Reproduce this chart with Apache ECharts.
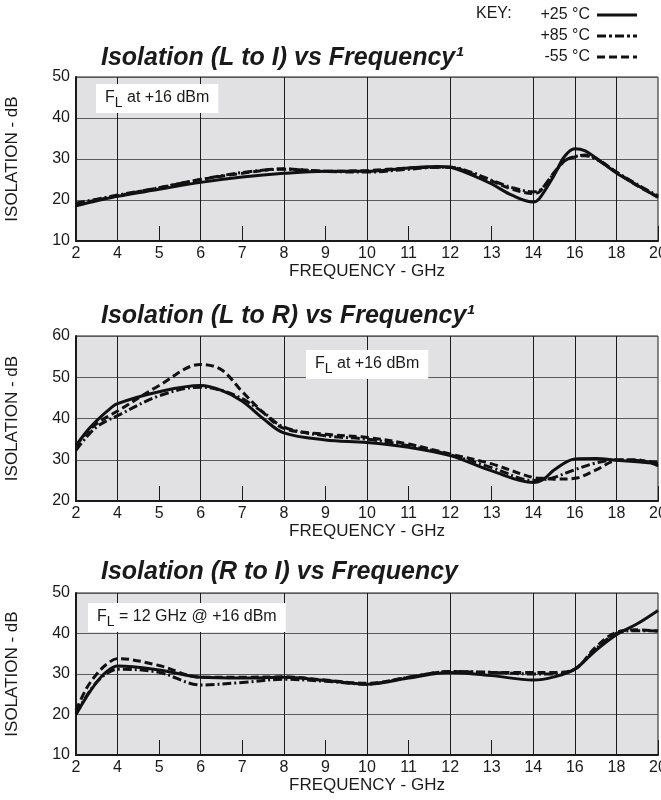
<!DOCTYPE html>
<html>
<head>
<meta charset="utf-8">
<title>Isolation vs Frequency</title>
<script src="https://cdn.jsdelivr.net/npm/echarts@6/dist/echarts.min.js"></script>
<style>
html, body { margin: 0; padding: 0; background: #fff; }
#chart { width: 661px; height: 800px; }
</style>
</head>
<body>
<div id="chart"></div>
<script>
// x axis is not linear: 2-4, then 1 GHz steps to 14, then 2 GHz steps
const tickLabels = ['2', '4', '5', '6', '7', '8', '9', '10', '11', '12', '13', '14', '16', '18', '20'];
const gridFreqs = [4, 6, 8, 10, 12, 14, 16, 18];
const names = ['+25 °C', '+85 °C', '-55 °C'];

// Isolation (L to I)
const freqLI = [2, 3, 4, 5, 6, 7, 8, 9, 10, 11, 11.7, 12, 12.5, 13, 13.5, 14, 14.3, 15, 15.5, 16, 16.5, 17, 18, 19, 20];
const li25 = [18.6, 19.8, 20.9, 22.6, 24.3, 25.6, 26.5, 27, 27, 27.8, 28.2, 28, 26.2, 23.9, 21.1, 19.5, 20.4, 26, 30.6, 32.5, 32, 30.3, 26.6, 23.6, 20.6];
const li85 = [19.2, 20.2, 21.2, 23, 25, 26.7, 27.5, 27, 26.8, 27.5, 28, 28, 26.8, 24.8, 23, 22, 22.3, 26.5, 29.5, 30.6, 30.8, 30, 26.8, 23.8, 21];
const lim55 = [19, 20, 21, 23, 25, 26.5, 27.6, 27, 27.2, 27.8, 28, 28, 26.5, 24.6, 22.6, 21.6, 22, 26.7, 29.5, 30.5, 31, 30.2, 26.8, 23.5, 20.8];

// Isolation (L to R)
const freqLR = [2, 2.5, 3, 3.5, 4, 5, 6, 6.5, 7, 7.5, 8, 9, 10, 11, 12, 13, 14, 14.5, 15, 16, 17, 18, 19, 20];
const lr25 = [33.4, 36.8, 39.5, 41.8, 43.6, 46.5, 48, 46.8, 44.2, 40, 36.5, 34.8, 34.2, 33, 31, 27.3, 24.5, 25.3, 27.5, 30.2, 30.3, 29.9, 29.5, 29.1];
const lr85 = [32.3, 35.5, 38, 39.5, 40.7, 45.5, 47.6, 46.8, 44.8, 41.5, 37.9, 35.8, 35, 33.4, 31.2, 28.1, 25, 25.2, 25.7, 27.6, 29.2, 30, 29.8, 29.4];
const lrm55 = [33.4, 36.5, 38.8, 40.4, 41.8, 48, 53.1, 51.8, 46.5, 41.5, 37.6, 36.2, 35.4, 33.8, 31.4, 29, 25.7, 25.5, 25.3, 25.5, 27.5, 29.8, 30, 28.5];

// Isolation (R to I)
const freqRI = [2, 2.5, 3, 3.5, 4, 5, 6, 7, 8, 9, 10, 11, 12, 13, 14, 15, 16, 17, 18, 19, 20];
const ri25 = [20, 24.3, 28, 30.7, 32, 31, 29.2, 29, 29.2, 28.4, 27.5, 29, 30.4, 29.6, 28.5, 29.3, 31.2, 35.8, 39.7, 42.4, 45.7];
const ri85 = [20.2, 24.5, 28, 30.2, 31.2, 30.4, 27.3, 27.9, 28.7, 28.2, 27.5, 29.2, 30.6, 30.4, 30, 30, 31.2, 36.2, 40, 40.7, 40.6];
const rim55 = [21, 26.4, 30, 32.5, 33.8, 32.1, 29.2, 29.2, 29.3, 28.5, 27.7, 29.2, 30.6, 30.4, 30.4, 30.4, 31.2, 36.6, 40.3, 40.9, 40.6];

const font = "'Liberation Sans', Arial, sans-serif";
const ink = '#1a1a1a';

function toPos(f) {
  if (f <= 4) return (f - 2) / 2;
  if (f <= 14) return f - 3;
  return 11 + (f - 14) / 2;
}

const lineTypes = ['solid', [9, 3, 2, 3], [8, 4]];
const keyDash = [null, [9, 3, 3, 3], [8, 4]];

const panels = [
  { top: 77, height: 164, min: 10, max: 50, freq: freqLI, sets: [li25, li85, lim55] },
  { top: 336, height: 165, min: 20, max: 60, freq: freqLR, sets: [lr25, lr85, lrm55] },
  { top: 593, height: 162, min: 10, max: 50, freq: freqRI, sets: [ri25, ri85, rim55] }
];

const grids = [], xAxes = [], yAxes = [], series = [];
panels.forEach(function (p, k) {
  grids.push({
    left: 76, width: 582, top: p.top, height: p.height,
    containLabel: false, outerBoundsMode: 'none',
    show: true, backgroundColor: '#e1e1e3', borderColor: ink, borderWidth: 1
  });
  xAxes.push({
    gridIndex: k, type: 'value', min: 0, max: 14, interval: 1,
    axisLine: { show: true, lineStyle: { color: ink, width: 2 } },
    axisTick: { show: true, inside: true, length: 15, lineStyle: { color: ink } },
    axisLabel: { formatter: function (v) { return tickLabels[v]; }, color: ink, fontSize: 16, fontFamily: font, margin: 5 },
    splitLine: { show: false },
    name: 'FREQUENCY - GHz', nameLocation: 'middle', nameGap: 22,
    nameTextStyle: { color: ink, fontSize: 17, fontFamily: font }
  });
  yAxes.push({
    gridIndex: k, type: 'value', min: p.min, max: p.max, interval: 10,
    axisLine: { show: true, lineStyle: { color: ink, width: 2 } },
    axisTick: { show: false },
    axisLabel: { color: ink, fontSize: 16, fontFamily: font, margin: 6 },
    splitLine: { show: true, lineStyle: { color: '#5a5a5a', width: 1 } },
    name: 'ISOLATION - dB', nameLocation: 'middle', nameGap: 55, nameRotate: 90,
    nameTextStyle: { color: ink, fontSize: 17, fontFamily: font }
  });
  // vertical grid lines only at the major frequencies
  series.push({
    type: 'line', xAxisIndex: k, yAxisIndex: k, data: [], z: 1, silent: true,
    markLine: {
      z: 1, silent: true, symbol: ['none', 'none'], label: { show: false },
      lineStyle: { color: ink, width: 1, type: 'solid' },
      data: gridFreqs.map(function (f) { return { xAxis: toPos(f) }; })
    }
  });
  p.sets.forEach(function (vals, j) {
    series.push({
      name: names[j], type: 'line', xAxisIndex: k, yAxisIndex: k, z: 3,
      symbol: 'none', smooth: 0.35, silent: true,
      lineStyle: { color: '#111', width: 3, type: lineTypes[j] },
      data: p.freq.map(function (f, i) { return [toPos(f), vals[i]]; })
    });
  });
});

function title(y, text) {
  return {
    type: 'text', left: 101, top: y,
    style: { text: text, fill: ink, font: 'italic bold 25px ' + font }
  };
}

function note(x, y, text) {
  return {
    type: 'text', left: x, top: y, z: 10,
    style: {
      text: text, backgroundColor: '#fff', padding: [4, 9, 3, 9],
      fill: ink, font: '16px ' + font,
      rich: {
        n: { fontSize: 16, fontFamily: font, fill: ink, lineHeight: 22, verticalAlign: 'top', padding: [2, 0, 0, 0] },
        s: { fontSize: 14, fontFamily: font, fill: ink, lineHeight: 22, verticalAlign: 'bottom' }
      }
    }
  };
}

// temperature key drawn at the top right
const key = [{ type: 'text', left: 476, top: 6, style: { text: 'KEY:', fill: ink, font: '16px ' + font } }];
names.forEach(function (n, j) {
  const y = 15 + j * 21;
  key.push({ type: 'text', x: 590, y: y, style: { text: n, fill: ink, font: '16px ' + font, textAlign: 'right', textVerticalAlign: 'middle' } });
  key.push({ type: 'line', shape: { x1: 597, y1: y, x2: 637, y2: y }, style: { stroke: '#111', lineWidth: 3, lineDash: keyDash[j] } });
});

const chart = echarts.init(document.getElementById('chart'), null, { renderer: 'canvas' });
chart.setOption({
  animation: false,
  backgroundColor: '#fff',
  grid: grids,
  xAxis: xAxes,
  yAxis: yAxes,
  series: series,
  graphic: key.concat([
    title(46, 'Isolation (L to I) vs Frequency¹'),
    title(304, 'Isolation (L to R) vs Frequency¹'),
    title(560, 'Isolation (R to I) vs Frequency'),
    note(96, 84, '{n|F}{s|L}{n| at +16 dBm}'),
    note(306, 350, '{n|F}{s|L}{n| at +16 dBm}'),
    note(88, 603, '{n|F}{s|L}{n| = 12 GHz @ +16 dBm}')
  ])
});
</script>
</body>
</html>
